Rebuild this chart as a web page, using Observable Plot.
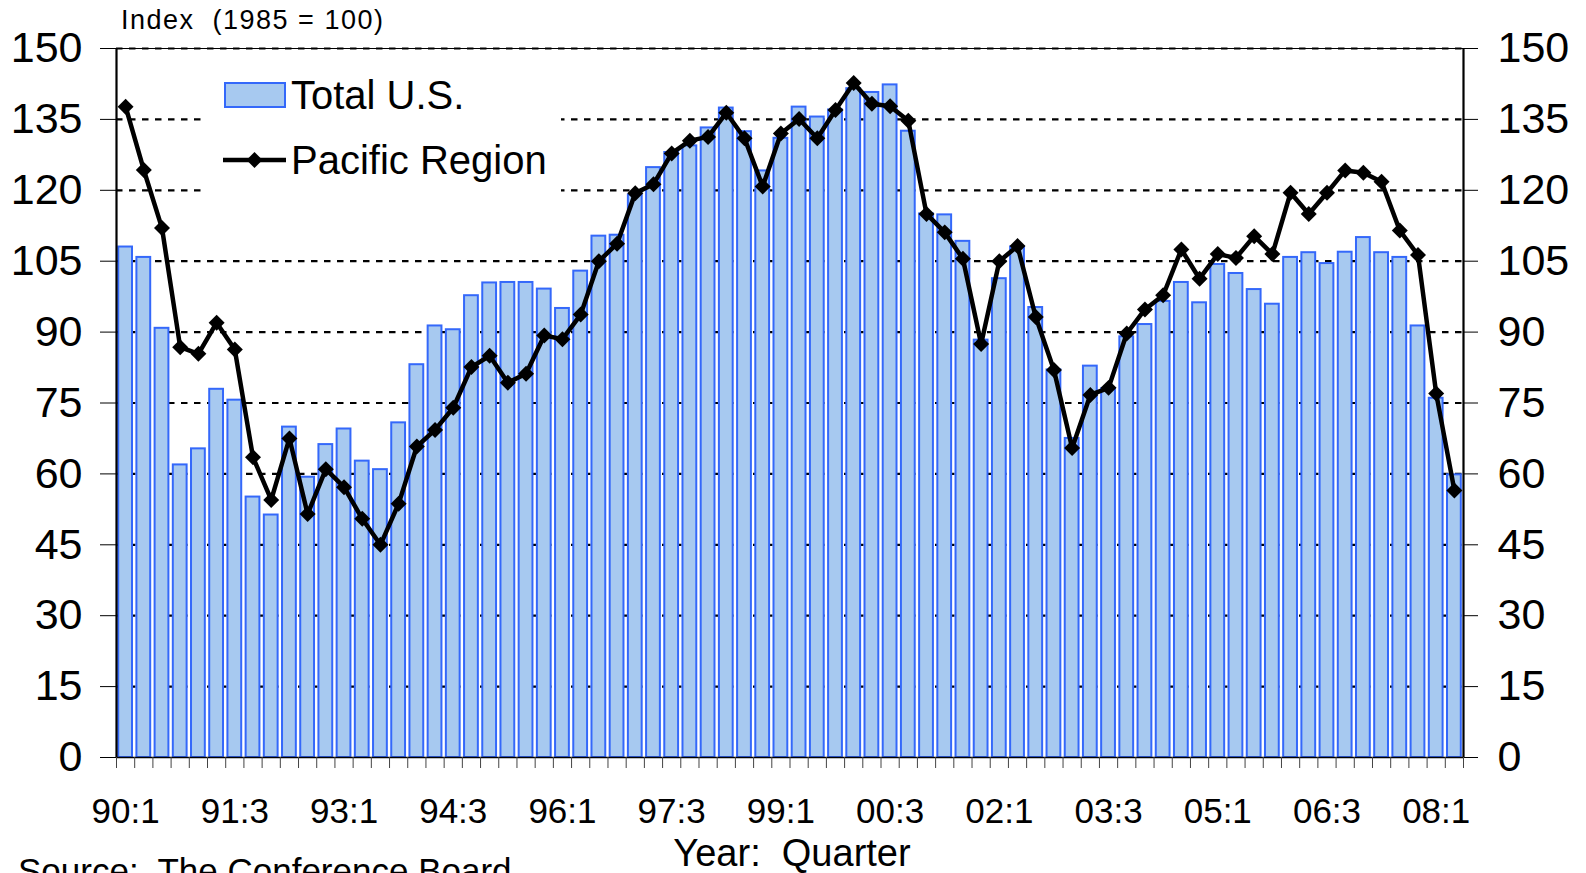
<!DOCTYPE html>
<html>
<head>
<meta charset="utf-8">
<script src="https://cdn.jsdelivr.net/npm/d3@7"></script>
<script src="https://cdn.jsdelivr.net/npm/@observablehq/plot@0.6"></script>
<style>
  html, body { margin: 0; padding: 0; background: #fff; overflow: hidden; }
  #wrap { position: relative; width: 1586px; height: 873px; overflow: hidden; font-family: "Liberation Sans", Arial, sans-serif; }
  #legend { position: absolute; left: 205px; top: 56px; width: 356px; height: 178px; background: #fff; }
</style>
</head>
<body>
<div id="wrap"></div>
<script>
// ---- Data ----
const quarters = [
  "90:1","90:2","90:3","90:4","91:1","91:2","91:3","91:4","92:1","92:2","92:3","92:4",
  "93:1","93:2","93:3","93:4","94:1","94:2","94:3","94:4","95:1","95:2","95:3","95:4",
  "96:1","96:2","96:3","96:4","97:1","97:2","97:3","97:4","98:1","98:2","98:3","98:4",
  "99:1","99:2","99:3","99:4","00:1","00:2","00:3","00:4","01:1","01:2","01:3","01:4",
  "02:1","02:2","02:3","02:4","03:1","03:2","03:3","03:4","04:1","04:2","04:3","04:4",
  "05:1","05:2","05:3","05:4","06:1","06:2","06:3","06:4","07:1","07:2","07:3","07:4",
  "08:1","08:2"
];
const totalUS = [
  108, 105.8, 90.8, 61.9, 65.3, 77.9, 75.6, 55.1, 51.3, 69.9, 59.3, 66.2,
  69.5, 62.7, 60.9, 70.8, 83.1, 91.3, 90.5, 97.7, 100.4, 100.5, 100.5, 99.1,
  95, 102.9, 110.3, 110.5, 119, 124.8, 128, 129.4, 133.2, 137.4, 132.4, 124.1,
  131, 137.6, 135.5, 137, 141.5, 140.7, 142.3, 132.5, 115, 114.8, 109.2, 88.3,
  101.3, 108, 95.2, 82, 67.5, 82.8, 78, 89, 91.6, 96.5, 100.5, 96.2,
  104.3, 102.4, 99, 95.9, 105.8, 106.8, 104.5, 106.9, 110, 106.8, 105.8, 91.3,
  76, 59.8
];
const pacific = [
  137.7, 124.3, 112, 86.8, 85.4, 92, 86.3, 63.5, 54.5, 67.5, 51.5, 61,
  57.2, 50.5, 45, 53.7, 65.8, 69.3, 74, 82.6, 85, 79.3, 81.2, 89.3,
  88.5, 93.7, 105, 108.7, 119.4, 121.3, 127.8, 130.5, 131.3, 136.4, 131, 120.8,
  132, 135.1, 131, 137, 142.7, 138.3, 137.8, 134.7, 115, 111.1, 105.5, 87.5,
  105, 108.2, 93.2, 82, 65.5, 76.7, 78.2, 89.7, 94.8, 97.8, 107.5, 101.3,
  106.5, 105.7, 110.3, 106.5, 119.5, 115, 119.5, 124.2, 123.7, 121.8, 111.5, 106.3,
  77, 56.5
];
const yTicks = [0, 15, 30, 45, 60, 75, 90, 105, 120, 135, 150];
const xLabelEvery = 6;
const seriesNames = ["Total U.S.", "Pacific Region"];
const yTitle = "Index  (1985 = 100)";
const xTitle = "Year:  Quarter";
const sourceText = "Source:  The Conference Board";

const barFill = "#a7c9f0";
const barStroke = "#3468fa";

const data = quarters.map((q, i) => ({i, q, us: totalUS[i], pac: pacific[i]}));
const n = quarters.length;
const boundaries = d3.range(n + 1).map(k => k - 0.5);
const labelIdx = d3.range(0, n, xLabelEvery);

const chart = Plot.plot({
  width: 1586,
  height: 873,
  marginTop: 48,
  marginBottom: 116,
  marginLeft: 116,
  marginRight: 123,
  style: {fontFamily: '"Liberation Sans", Arial, sans-serif', color: "black", background: "white"},
  x: {domain: [-0.5, n - 0.5]},
  y: {domain: [0, 150]},
  marks: [
    Plot.ruleY(yTicks.filter(v => v > 0), {stroke: "black", strokeWidth: 2.2, strokeDasharray: "6.5,6.5"}),
    Plot.rectY(data, {x1: d => d.i - 0.5, x2: d => d.i + 0.5, y: "us", fill: barFill, stroke: barStroke, strokeWidth: 2, insetLeft: 2.2, insetRight: 2.2}),
    Plot.line(data, {x: "i", y: "pac", stroke: "black", strokeWidth: 4.5, strokeLinejoin: "round"}),
    Plot.dot(data, {x: "i", y: "pac", symbol: "diamond2", r: 7.2, fill: "black", stroke: "none"}),
    Plot.ruleY([150], {stroke: "black", strokeWidth: 1}),
    Plot.ruleX([-0.5], {stroke: "black", strokeWidth: 2.2}),
    Plot.ruleX([n - 0.5], {stroke: "black", strokeWidth: 2.2}),
    Plot.ruleY([0], {stroke: "black", strokeWidth: 1.6}),
    Plot.axisY({anchor: "left", ticks: yTicks, tickSize: 16, tickPadding: 18, label: null, tickFormat: d => String(d), fontSize: 43}),
    Plot.axisY({anchor: "right", ticks: yTicks, tickSize: 14, tickPadding: 20, label: null, tickFormat: d => String(d), fontSize: 43}),
    Plot.axisX({ticks: boundaries, tickSize: 11, tickFormat: () => "", label: null, stroke: "#444"}),
    Plot.axisX({ticks: labelIdx, tickSize: 0, tickPadding: 41, tickFormat: i => quarters[i], label: null, fontSize: 35})
  ]
});
document.getElementById("wrap").appendChild(chart);

const svg = d3.select(chart);
svg.selectAll('[aria-label="y-axis tick label"]').attr("font-size", 43).selectAll("text").attr("font-size", 43);
svg.selectAll('[aria-label="x-axis tick label"]').attr("font-size", 35).selectAll("text").attr("font-size", 35);

svg.append("text").attr("x", 121).attr("y", 29).attr("font-size", 27).attr("letter-spacing", 1.5)
  .attr("text-anchor", "start").style("white-space", "pre").attr("fill", "black").text(yTitle);
svg.append("text").attr("x", 792).attr("y", 866).attr("text-anchor", "middle").attr("font-size", 38)
  .style("white-space", "pre").attr("fill", "black").text(xTitle);
svg.append("text").attr("x", 18).attr("y", 883).attr("font-size", 35).attr("text-anchor", "start")
  .style("white-space", "pre").attr("fill", "black").text(sourceText);

// Legend
const leg = d3.select("#wrap").append("svg").attr("id", "legend").attr("width", 356).attr("height", 178)
  .style("font-family", '"Liberation Sans", Arial, sans-serif');
leg.append("rect").attr("x", 20).attr("y", 27).attr("width", 60).attr("height", 24)
  .attr("fill", barFill).attr("stroke", barStroke).attr("stroke-width", 2);
leg.append("text").attr("x", 86).attr("y", 53).attr("font-size", 40).text(seriesNames[0]);
leg.append("line").attr("x1", 18).attr("x2", 81).attr("y1", 104).attr("y2", 104)
  .attr("stroke", "black").attr("stroke-width", 4.5);
leg.append("path").attr("transform", "translate(49.5,104)")
  .attr("d", d3.symbol(d3.symbolDiamond2, Math.PI * 7.2 * 7.2)()).attr("fill", "black");
leg.append("text").attr("x", 86).attr("y", 118).attr("font-size", 40).text(seriesNames[1]);
</script>
</body>
</html>
